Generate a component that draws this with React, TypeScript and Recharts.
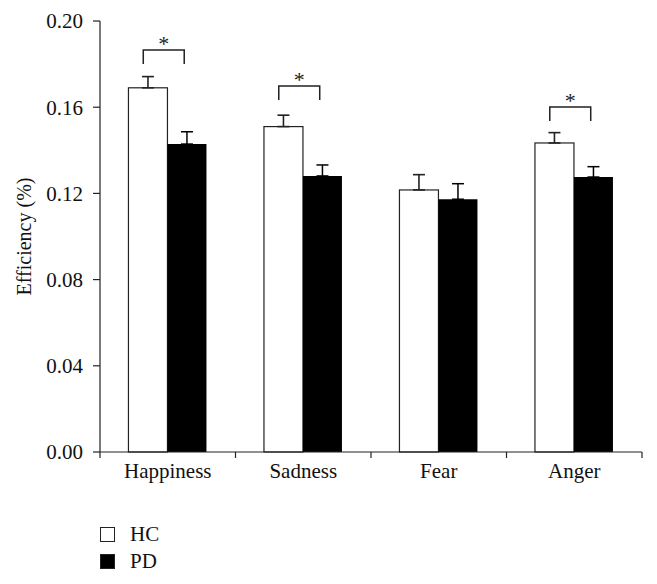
import React from "react";
import { BarChart, Bar, XAxis, YAxis, ErrorBar, Legend } from "recharts";

// values
const categories = ["Happiness", "Sadness", "Fear", "Anger"];
const hcMeans = [0.169, 0.151, 0.1216, 0.1434];
const hcErrs = [0.0052, 0.0053, 0.0071, 0.0048];
const pdMeans = [0.1429, 0.1281, 0.1173, 0.1276];
const pdErrs = [0.0057, 0.0051, 0.0072, 0.0048];
// height of the significance bracket (null = no bracket)
const sigLevels: Array<number | null> = [0.1865, 0.1698, null, 0.1601];
const yTicks = [0, 0.04, 0.08, 0.12, 0.16, 0.2];

const data = categories.map((name, i) => ({
  name,
  hc: hcMeans[i],
  pd: pdMeans[i],
  hcErr: [0, hcErrs[i]],
  pdErr: [0, pdErrs[i]],
  sig: sigLevels[i],
}));

const W = 657;
const H = 584;
const FONT = "'Liberation Serif', 'Times New Roman', serif";
const INK = "#222";
const MARGIN = { top: 21, right: 15, left: 0, bottom: 92 };
const Y_WIDTH = 100;
const BAND = (W - MARGIN.left - MARGIN.right - Y_WIDTH) / categories.length;

// HC bar + the bracket/asterisk above the pair
const HcShape = (props: any) => {
  const { x, y, width, height, payload } = props;
  const base = y + height;
  const ppu = payload.hc ? height / payload.hc : 0;
  let bracket = null;
  if (payload.sig != null && ppu) {
    const yb = base - payload.sig * ppu;
    const x1 = x + width * 0.38;
    const x2 = x + width * 1.43;
    bracket = (
      <g>
        <path
          d={`M${x1},${yb + 14} L${x1},${yb} L${x2},${yb} L${x2},${yb + 14}`}
          fill="none"
          stroke={INK}
          strokeWidth={1.5}
        />
        <text x={(x1 + x2) / 2} y={yb + 1} textAnchor="middle" fontSize={22} fontFamily={FONT} fill={INK}>
          *
        </text>
      </g>
    );
  }
  return (
    <g>
      <rect x={x} y={y} width={width} height={height} fill="#fff" stroke={INK} strokeWidth={1.2} />
      {bracket}
    </g>
  );
};

// category label centred, tick marks at band edges
const XTick = (props: any) => {
  const { x, y, payload, index } = props;
  const half = BAND / 2;
  return (
    <g>
      <line x1={x - half} y1={y} x2={x - half} y2={y + 6} stroke={INK} strokeWidth={1.2} />
      {index === categories.length - 1 && (
        <line x1={x + half} y1={y} x2={x + half} y2={y + 6} stroke={INK} strokeWidth={1.2} />
      )}
      <text x={x} y={y + 26} textAnchor="middle" fontSize={21} fontFamily={FONT} fill="#111">
        {payload.value}
      </text>
    </g>
  );
};

const LegendBox = () => {
  const items = [
    { label: "HC", fill: "#fff" },
    { label: "PD", fill: "#000" },
  ];
  return (
    <div style={{ fontFamily: FONT, fontSize: 21, color: "#111" }}>
      {items.map((it) => (
        <div key={it.label} style={{ display: "flex", alignItems: "center", height: 27 }}>
          <span
            style={{
              display: "inline-block",
              width: 13,
              height: 13,
              background: it.fill,
              border: `1.5px solid ${INK}`,
              marginRight: 15,
            }}
          />
          {it.label}
        </div>
      ))}
    </div>
  );
};

export default function App() {
  return (
    <div style={{ position: "absolute", left: 0, top: 0, width: W, height: H, background: "#fff" }}>
      <BarChart
        width={W}
        height={H}
        data={data}
        margin={MARGIN}
        barCategoryGap="21%"
        barGap={0}
      >
        <XAxis
          dataKey="name"
          height={40}
          tickLine={false}
          tickSize={0}
          tickMargin={0}
          tick={<XTick />}
          axisLine={{ stroke: INK, strokeWidth: 1.2 }}
          interval={0}
        />
        <YAxis
          width={Y_WIDTH}
          domain={[0, 0.2]}
          ticks={yTicks}
          tickFormatter={(v) => Number(v).toFixed(2)}
          tickSize={7}
          tickMargin={10}
          axisLine={{ stroke: INK, strokeWidth: 1.2 }}
          tickLine={{ stroke: INK, strokeWidth: 1.2 }}
          tick={{ fontSize: 21, fontFamily: FONT, fill: "#111" }}
          label={{
            value: "Efficiency (%)",
            angle: -90,
            position: "insideLeft",
            offset: 24,
            style: { textAnchor: "middle", fontSize: 20, fontFamily: FONT, fill: "#111" },
          }}
        />
        <Legend
          layout="horizontal"
          verticalAlign="middle"
          align="center"
          content={<LegendBox />}
          wrapperStyle={{ left: 100, top: 521, width: 120 }}
        />
        <Bar dataKey="hc" name="HC" fill="#fff" shape={<HcShape />} isAnimationActive={false}>
          <ErrorBar dataKey="hcErr" direction="y" width={6} stroke={INK} strokeWidth={1.6} />
        </Bar>
        <Bar dataKey="pd" name="PD" fill="#000" isAnimationActive={false}>
          <ErrorBar dataKey="pdErr" direction="y" width={6} stroke="#000" strokeWidth={1.5} />
        </Bar>
      </BarChart>
    </div>
  );
}
